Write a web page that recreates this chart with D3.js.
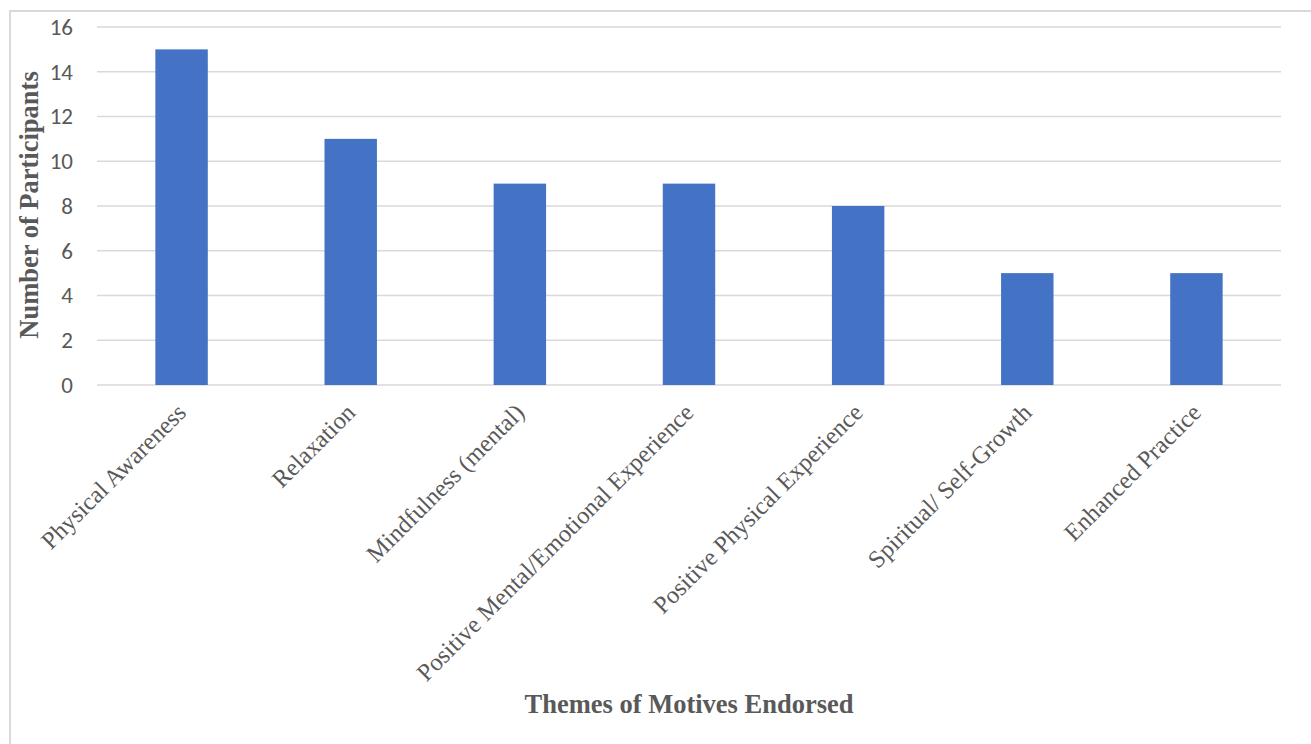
<!DOCTYPE html>
<html>
<head>
<meta charset="utf-8">
<script src="https://cdn.jsdelivr.net/npm/d3@7"></script>
<style>
  html, body { margin: 0; padding: 0; background: #fff; }
  svg { display: block; }
</style>
</head>
<body>
<svg id="chart" width="1311" height="744"></svg>
<script>
// Motive themes and how many participants endorsed each
const categories = [
  "Physical Awareness",
  "Relaxation",
  "Mindfulness (mental)",
  "Positive Mental/Emotional Experience",
  "Positive Physical Experience",
  "Spiritual/ Self-Growth",
  "Enhanced Practice"
];
const participants = [15, 11, 9, 9, 8, 5, 5];
const yTicks = [0, 2, 4, 6, 8, 10, 12, 14, 16];

const xTitle = "Themes of Motives Endorsed";
const yTitle = "Number of Participants";

const svg = d3.select("#chart");
const textColor = "#595959";
const gridColor = "#d9d9d9";
const barColor = "#4472c4";

// Chart-area frame (open toward right and bottom edges)
svg.append("path")
  .attr("d", "M10,744 V11 H1311")
  .attr("fill", "none")
  .attr("stroke", gridColor)
  .attr("stroke-width", 2);

const plot = { left: 97, right: 1281, top: 27, bottom: 385 };

const x = d3.scaleBand()
  .domain(categories)
  .range([plot.left, plot.right])
  .paddingInner(0.69)
  .paddingOuter(0.345);

const y = d3.scaleLinear()
  .domain([0, 16])
  .range([plot.bottom, plot.top]);

// Horizontal gridlines
svg.append("g")
  .selectAll("line")
  .data(yTicks)
  .join("line")
  .attr("x1", plot.left)
  .attr("x2", plot.right)
  .attr("y1", d => y(d))
  .attr("y2", d => y(d))
  .attr("stroke", gridColor)
  .attr("stroke-width", 1.5);

// Y axis tick labels
const yAxis = svg.append("g")
  .attr("transform", `translate(${plot.left - 24},0)`)
  .call(d3.axisLeft(y).tickValues(yTicks).tickSize(0).tickPadding(0));
yAxis.select(".domain").remove();
yAxis.selectAll("text")
  .attr("fill", textColor)
  .style("font-family", "Carlito, 'Liberation Sans', Arial, sans-serif")
  .style("font-size", "23px");

// Bars
svg.append("g")
  .selectAll("rect")
  .data(categories)
  .join("rect")
  .attr("x", d => x(d))
  .attr("width", x.bandwidth())
  .attr("y", (d, i) => y(participants[i]))
  .attr("height", (d, i) => y(0) - y(participants[i]))
  .attr("fill", barColor);

// Category labels, rotated
svg.append("g")
  .selectAll("text")
  .data(categories)
  .join("text")
  .attr("transform", d => `translate(${x(d) + x.bandwidth() / 2 + 6},414) rotate(-45)`)
  .attr("text-anchor", "end")
  .attr("fill", textColor)
  .style("font-family", "'Liberation Serif', 'Times New Roman', serif")
  .style("font-size", "24.5px")
  .text(d => d);

// Axis titles
svg.append("text")
  .attr("x", (plot.left + plot.right) / 2)
  .attr("y", 713)
  .attr("text-anchor", "middle")
  .attr("fill", textColor)
  .style("font-family", "'Liberation Serif', 'Times New Roman', serif")
  .style("font-weight", "bold")
  .style("font-size", "26.5px")
  .text(xTitle);

svg.append("text")
  .attr("transform", "translate(38,205) rotate(-90)")
  .attr("text-anchor", "middle")
  .attr("fill", textColor)
  .style("font-family", "'Liberation Serif', 'Times New Roman', serif")
  .style("font-weight", "bold")
  .style("font-size", "26.5px")
  .text(yTitle);
</script>
</body>
</html>
